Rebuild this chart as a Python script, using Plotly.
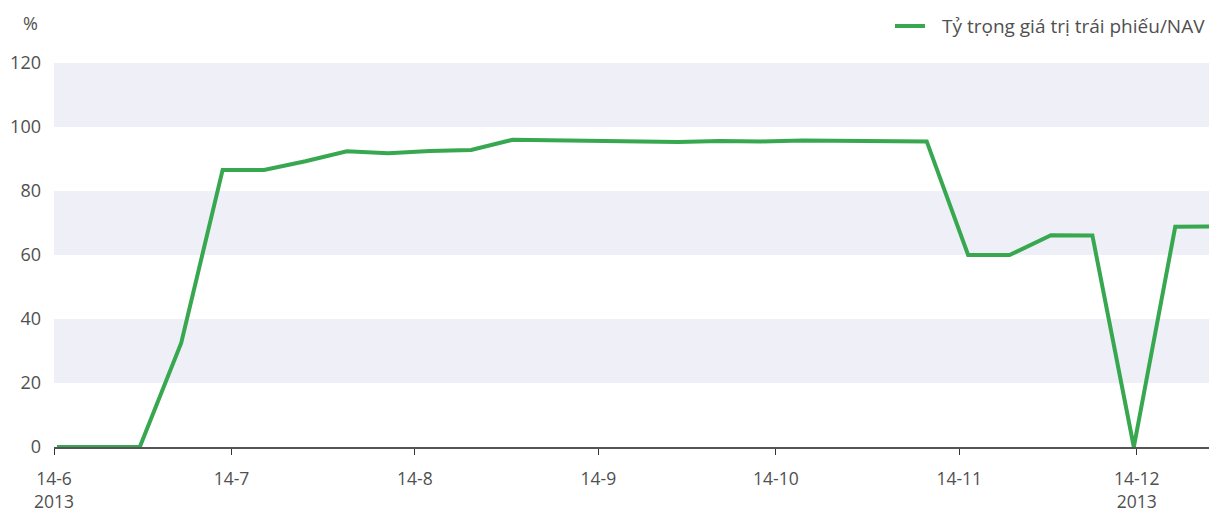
import plotly.graph_objects as go

# Weekly observations (Fridays), bond holdings as % of NAV
dates = [
    "2013-06-14", "2013-06-21", "2013-06-28", "2013-07-05", "2013-07-12",
    "2013-07-19", "2013-07-26", "2013-08-02", "2013-08-09", "2013-08-16",
    "2013-08-23", "2013-08-30", "2013-09-06", "2013-09-13", "2013-09-20",
    "2013-09-27", "2013-10-04", "2013-10-11", "2013-10-18", "2013-10-25",
    "2013-11-01", "2013-11-08", "2013-11-15", "2013-11-22", "2013-11-29",
    "2013-12-06", "2013-12-13", "2013-12-20", "2013-12-27",
]
bond_ratio = [
    0.0, 0.0, 0.0, 32.5, 86.6,
    86.6, 89.3, 92.4, 91.8, 92.5,
    92.8, 96.0, 95.8, 95.7, 95.6,
    95.3, 95.6, 95.5, 95.8, 95.6,
    95.6, 95.5, 60.0, 60.0, 66.2,
    66.1, 0.0, 68.8, 68.9,
]
series_name = "Tỷ trọng giá trị trái phiếu/NAV"

tick_dates = ["2013-06-14", "2013-07-14", "2013-08-14", "2013-09-14",
              "2013-10-14", "2013-11-14", "2013-12-14"]
tick_labels = ["14-6<br>2013", "14-7", "14-8", "14-9", "14-10", "14-11", "14-12<br>2013"]
y_ticks = [0, 20, 40, 60, 80, 100, 120]

FONT = "Open Sans"
TEXT = "#505050"
GREEN = "#37a84f"
BAND = "#eeeff7"

# each weekly value is plotted at the middle of its day
x_points = [d + " 12:00" for d in dates]

fig = go.Figure()
fig.add_trace(go.Scatter(
    x=x_points, y=bond_ratio, mode="lines", name=series_name,
    line=dict(color=GREEN, width=4), cliponaxis=False,
    showlegend=False,
))

# alternating horizontal bands
shapes = []
for lo in (20, 60, 100):
    shapes.append(dict(type="rect", xref="paper", yref="y", x0=0, x1=1,
                       y0=lo, y1=lo + 20, fillcolor=BAND, line_width=0,
                       layer="below"))

# legend key drawn in the top-right margin
shapes.append(dict(type="line", xref="paper", yref="paper",
                   x0=0.7281, x1=0.7541, y0=1.0964, y1=1.0964,
                   line=dict(color=GREEN, width=4)))

annotations = [
    dict(text="%", xref="paper", yref="paper", x=0, y=1.104,
         xanchor="right", yanchor="middle", xshift=-14,
         showarrow=False, font=dict(size=18, color=TEXT)),
    dict(text=series_name, xref="paper", yref="paper", x=0.767, y=1.0964,
         xanchor="left", yanchor="middle", showarrow=False,
         font=dict(size=19, color=TEXT)),
]

fig.update_layout(
    width=1209, height=511,
    margin=dict(l=54, r=0, t=63, b=64, autoexpand=False),
    plot_bgcolor="white", paper_bgcolor="white",
    font=dict(family=FONT, size=18, color=TEXT),
    shapes=shapes,
    annotations=annotations,
    showlegend=False,
    xaxis=dict(
        type="date", range=["2013-06-14", "2013-12-26 05:00"],
        tickvals=tick_dates, ticktext=tick_labels,
        showgrid=False, zeroline=False,
        showline=True, linecolor="#555555", linewidth=1.5,
        ticks="outside", ticklen=6, tickcolor="#333333", tickwidth=1,
        ticklabelstandoff=9,
        tickfont=dict(size=17.5, color=TEXT),
    ),
    yaxis=dict(
        range=[0, 120], tickvals=y_ticks, showgrid=False, zeroline=False,
        showline=False, ticks="", ticklabelstandoff=12,
        tickfont=dict(size=18, color=TEXT),
    ),
)

fig.write_html("out.html")
